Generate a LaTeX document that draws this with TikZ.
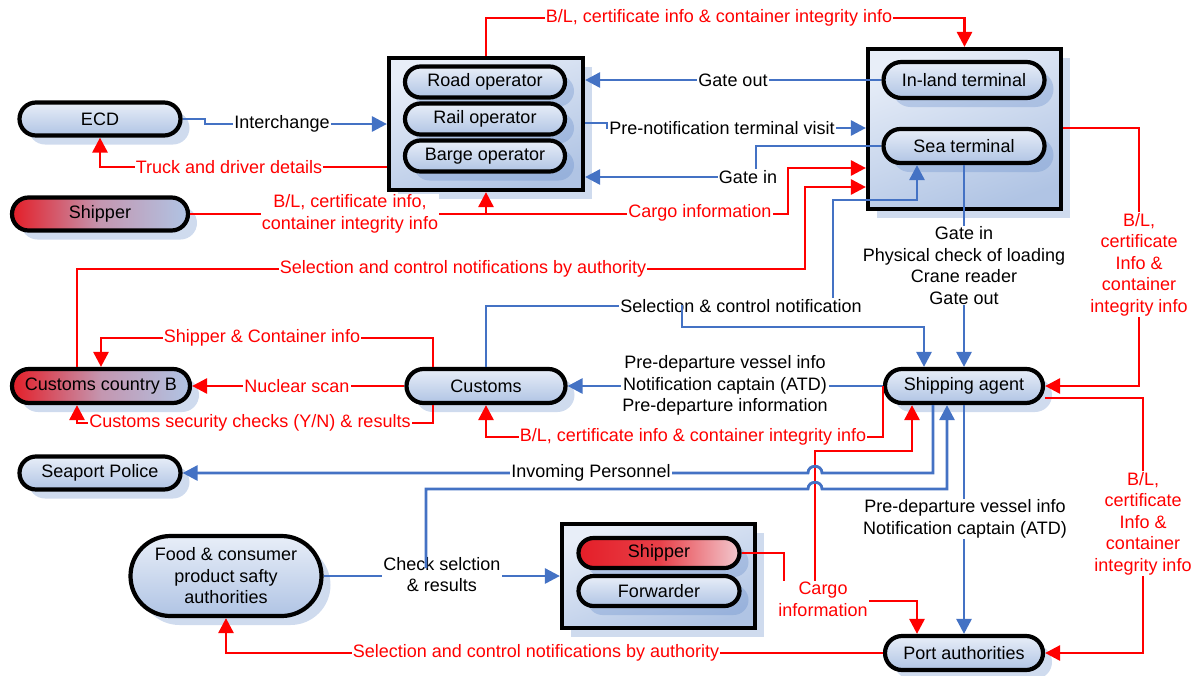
\documentclass[tikz,border=0pt]{standalone}
\usepackage{fontspec}
\setmainfont{Liberation Sans}
\usetikzlibrary{arrows.meta,shapes.misc,shadows}

\definecolor{flowblue}{RGB}{68,114,196}
\definecolor{flowred}{RGB}{255,0,0}
\definecolor{paletop}{RGB}{232,238,248}
\definecolor{palebot}{RGB}{176,196,228}
\definecolor{shadowtone}{RGB}{95,135,200}
\definecolor{alertred}{RGB}{228,30,40}
\definecolor{mauve}{RGB}{196,150,176}
\definecolor{blush}{RGB}{242,200,206}

\begin{document}
\begin{tikzpicture}[x=1pt,y=-1pt,
  font=\fontsize{18pt}{21.5pt}\selectfont,
  softshadow/.style={drop shadow={shadow xshift=9pt,shadow yshift=-9pt,fill=shadowtone,opacity=0.3}},
  pill/.style={rounded rectangle, draw=black, line width=4.2pt, softshadow,
    top color=paletop, bottom color=palebot, inner sep=0pt, align=center},
  redpill/.style={pill, left color=alertred, right color=palebot, middle color=mauve},
  hotpill/.style={pill, left color=alertred, right color=blush, middle color=alertred!85!white},
  panel/.style={rectangle, draw=black, line width=4.2pt, softshadow,
    top color=paletop, bottom color=palebot, shading angle=20, inner sep=0pt},
  flow/.style={line width=2.8pt, -{Triangle[length=15pt,width=15pt]}},
  bl/.style={draw=flowblue},
  rd/.style={draw=flowred},
  lbl/.style={fill=white, inner sep=1pt, align=center, text=black},
  rlbl/.style={lbl, text=flowred}
]
\useasboundingbox (0,0) rectangle (1201,675);

% ---- grouped operators ----
\node[panel, minimum width=194pt, minimum height=132pt] (opbox) at (486,124) {};
\node[pill, minimum width=160pt, minimum height=31pt] (road) at (485,82) {Road operator};
\node[pill, minimum width=160pt, minimum height=31pt] (rail) at (485,119) {Rail operator};
\node[pill, minimum width=160pt, minimum height=31pt] (barge) at (485,156) {Barge operator};

% ---- terminals ----
\node[panel, minimum width=193pt, minimum height=160pt] (termbox) at (964.5,129) {};
\node[pill, minimum width=161pt, minimum height=36pt] (inland) at (964,80) {In-land terminal};
\node[pill, minimum width=161pt, minimum height=34pt] (sea) at (964,146) {Sea terminal};

% ---- shipper / forwarder ----
\node[panel, minimum width=193pt, minimum height=104pt] (sfbox) at (658.5,576) {};
\node[hotpill, minimum width=161pt, minimum height=30pt] (shipS) at (659,553) {Shipper};
\node[pill, minimum width=161pt, minimum height=30pt] (fwd) at (659,591) {Forwarder};

% ---- single parties ----
\node[pill, minimum width=161pt, minimum height=33pt] (ecd) at (100,119) {ECD};
\node[redpill, minimum width=176pt, minimum height=33pt] (shipL) at (100,214) {Shipper};
\node[redpill, minimum width=178pt, minimum height=34pt] (custB) at (101,386) {Customs country B};
\node[pill, minimum width=159pt, minimum height=34pt] (customs) at (486,386) {Customs};
\node[pill, minimum width=158pt, minimum height=34pt] (agent) at (964,386) {Shipping agent};
\node[pill, minimum width=161pt, minimum height=33pt] (police) at (100,473) {Seaport Police};
\node[pill, minimum width=191pt, minimum height=80pt] (food) at (226,576) {Food \& consumer\\product safty\\authorities};
\node[pill, minimum width=158pt, minimum height=34pt] (port) at (964,653) {Port authorities};

% ---- flows ----
\coordinate (split) at (486,214);
\draw[flow,bl] (ecd.east) -- (205,119) |- (opbox.west |- 0,124);
\draw[flow,rd] (opbox.west |- 0,167) -| (ecd.south);
\draw[flow,rd] (shipL.east) -- (split) -- (opbox.south);
\draw[flow,rd] (split) -- (788,214) |- (termbox.west |- 0,168);
\draw[flow,rd] (opbox.north) |- (termbox.north |- 0,18) -- (termbox.north);
\draw[flow,bl] (inland.west) -- (opbox.east |- inland.west);
\draw[flow,bl] (opbox.east |- 0,123) -- (607,123) |- (termbox.west |- 0,128);
\draw[flow,bl] (sea.west) -| (756,177) -- (opbox.east |- 0,177);
\draw[flow,rd] (77,0 |- custB.north) |- (805,269) |- (termbox.west |- 0,187);
\draw[flow,bl] (customs.north) |- (833,306) |- (917,200) -- (917,0 |- sea.south);
\draw[flow,bl] (sea.south) -- (agent.north);
\draw[flow,rd] (termbox.east |- 0,128) -| (1139,0 |- agent.east) -- (agent.east);
\draw[flow,bl] (agent.west) -- (customs.east);
\draw[flow,rd] (agent.west) |- (customs.south |- 0,437) -- (customs.south);
\draw[flow,rd] (433,0 |- customs.north) -- (433,338) -| (custB.north);
\draw[flow,rd] (customs.west) -- (custB.east);
\draw[flow,rd] (433,0 |- customs.south) -- (433,423) -| (77,0 |- custB.south);
\draw[flow,rd] (shipS.east) -- (784,553) -- (784,601) -- (917,601) -- (917,0 |- port.north);
\draw[flow,rd] (815,601) -- (815,451) -- (912,451) -- (912,0 |- agent.south);
\draw[flow,bl] (933,0 |- agent.south) -- (933,473) -- (822,473)
  .. controls (822,464) and (808,464) .. (808,473) -- (police.east);
\draw[flow,bl] (food.east) -- (sfbox.west |- food.east);
\draw[flow,bl] (agent.south) -- (port.north);
\draw[flow,rd] ([yshift=-12pt]agent.east) -- (1143,398) -- (1143,0 |- port.east) -- (port.east);
\draw[flow,rd] (port.west) -| (food.south);

% ---- flow labels ----
\node[lbl] (tInter) at (282,124) {Interchange};
\node[rlbl] (tTruck) at (229,167) {Truck and driver details};
\node[rlbl] (tShipBL) at (350,214) {B/L, certificate info,\\container integrity info};
\node[rlbl] (tCargoTop) at (700,213) {Cargo information};
\node[rlbl] (tTopBL) at (719,18) {B/L, certificate info \& container integrity info};
\node[lbl] (tGateOut) at (733,80) {Gate out};
\node[lbl] (tPreNote) at (722,128) {Pre-notification terminal visit};
\node[lbl] (tGateIn) at (748,177) {Gate in};
\node[rlbl] (tSelB) at (463,269) {Selection and control notifications by authority};
\node[lbl] (tSelCtl) at (741,306) {Selection \& control notification};
\node[lbl] (tChecks) at (964,265.5) {Gate in\\Physical check of loading\\Crane reader\\Gate out};
\node[rlbl] (tRightBL) at (1139,264.5) {B/L,\\certificate\\Info \&\\container\\integrity info};
\node[rlbl] (tShipCont) at (262,338) {Shipper \& Container info};
\node[rlbl] (tNuclear) at (297,386) {Nuclear scan};
\node[rlbl] (tSecChk) at (250,423) {Customs security checks (Y/N) \& results};
\node[lbl] (tPreDep) at (725,385.5) {Pre-departure vessel info\\Notification captain (ATD)\\Pre-departure information};
\node[rlbl] (tMidBL) at (693,437) {B/L, certificate info \& container integrity info};
\node[lbl] (tPersonnel) at (591,473) {Invoming Personnel};
\node[lbl] (tCheckSel) at (442,574.5) {Check selction\\\& results};
\node[rlbl] (tCargoLow) at (823,599.5) {Cargo\\information};
\node[lbl] (tVessel) at (965,519) {Pre-departure vessel info\\Notification captain (ATD)};
\node[rlbl] (tLowBL) at (1143,523.5) {B/L,\\certificate\\Info \&\\container\\integrity info};
\node[rlbl] (tSelPort) at (536,653) {Selection and control notifications by authority};

% ---- branches drawn over their labels ----
\draw[flow,bl] (682,305) |- (924,327) -- (924,0 |- agent.north);
\draw[flow,bl] (426,568) -- (426,489) -- (808,489)
  .. controls (808,480) and (822,480) .. (822,489) -- (947,489) -- (947,0 |- agent.south);
\end{tikzpicture}
\end{document}
